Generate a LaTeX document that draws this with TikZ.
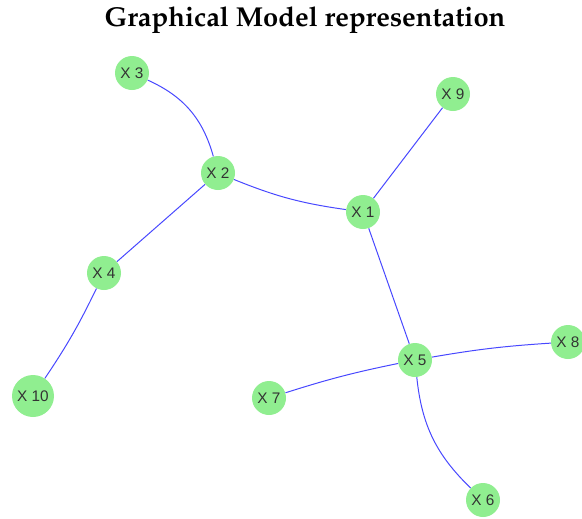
\documentclass[tikz,border=0pt]{standalone}
\usepackage{fontspec}
\usepackage{tikz}
\newfontfamily\nodefont{Liberation Sans}
\definecolor{nodegreen}{HTML}{90EE90}
\definecolor{edgeblue}{HTML}{4848FF}
\definecolor{labelgrey}{HTML}{333333}
\tikzset{
  var/.style={circle,fill=nodegreen,inner sep=0pt,minimum size=25.5pt,font=\nodefont\fontsize{11.5}{13}\selectfont,text=labelgrey},
  bigvar/.style={var,minimum size=31.5pt},
  link/.style={draw=edgeblue,line width=0.75pt},
  title/.style={font=\fontencoding{T1}\fontfamily{ppl}\fontseries{b}\fontsize{20.5}{24}\selectfont,anchor=base}}

\begin{document}
\begin{tikzpicture}[x=0.75pt,y=-0.75pt]
  \useasboundingbox (0,0) rectangle (582,518);
  \node[title] (head) at (305,26) {Graphical Model representation};
  % variables
  \node[var] (x3) at (132,73) {X 3};
  \node[var] (x2) at (218,173) {X 2};
  \node[var] (x9) at (453,94) {X 9};
  \node[var] (x1) at (363,212) {X 1};
  \node[var] (x4) at (104,273) {X 4};
  \node[bigvar] (x10) at (33,396) {X 10};
  \node[var] (x5) at (415,360) {X 5};
  \node[var] (x8) at (568,342) {X 8};
  \node[var] (x7) at (269,398) {X 7};
  \node[var] (x6) at (483,500) {X 6};
  % edges
  \draw[link] (x3) to[bend left=25] (x2);
  \draw[link] (x2) to[bend right=7] (x1);
  \draw[link] (x2) -- (x4);
  \draw[link] (x4) to[bend left=4] (x10);
  \draw[link] (x1) -- (x9);
  \draw[link] (x1) -- (x5);
  \draw[link] (x5) to[bend left=3] (x8);
  \draw[link] (x5) to[bend right=3] (x7);
  \draw[link] (x5) to[bend right=20] (x6);
\end{tikzpicture}
\end{document}
